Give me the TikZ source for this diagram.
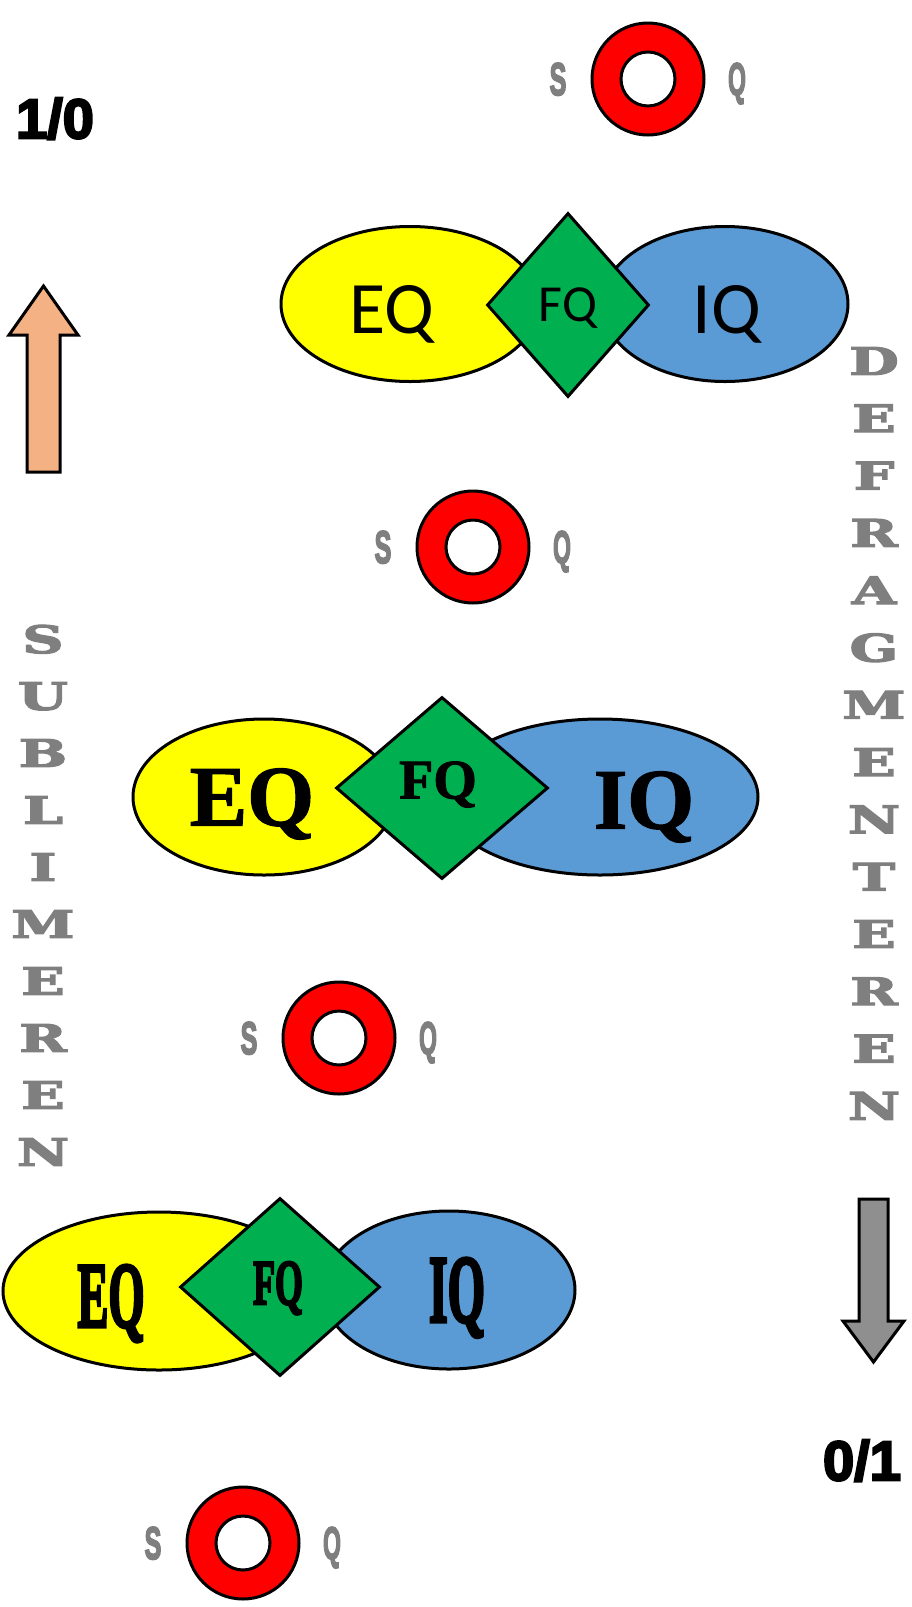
\documentclass[tikz,border=0pt]{standalone}
\usepackage{fontspec}
\usepackage{graphicx}
\usepackage{tikz}
\usetikzlibrary{shapes.geometric, positioning}
\newfontfamily\calfont{Carlito}
\newfontfamily\serffont{Liberation Serif}[UprightFont=* Bold, FakeBold=1.5]
\newfontfamily\heavyserf{Liberation Serif}[UprightFont=* Bold, FakeBold=4]
\newfontfamily\sqfont{Liberation Sans}[UprightFont=* Bold, FakeBold=4]
\newfontfamily\letfont{DejaVu Serif}[UprightFont=* Bold, FakeBold=3]
\definecolor{eqyellow}{RGB}{255,255,0}
\definecolor{iqblue}{RGB}{91,155,213}
\definecolor{fqgreen}{RGB}{0,176,80}
\definecolor{ringred}{RGB}{255,0,0}
\definecolor{uppeach}{RGB}{244,177,131}
\definecolor{downgray}{RGB}{143,143,143}
\definecolor{labelgray}{RGB}{127,127,127}
\newcommand{\narrow}[2][0.6]{\scalebox{#1}[1]{#2}}

\begin{document}
\begin{tikzpicture}[
    x=1pt, y=-1pt,
    shapeline/.style={draw, line width=3pt, inner sep=0pt},
    eqshape/.style={shapeline, ellipse, fill=eqyellow},
    iqshape/.style={shapeline, ellipse, fill=iqblue},
    fqshape/.style={shapeline, diamond, fill=fqgreen, aspect=1},
    outerring/.style={shapeline, circle, fill=ringred, minimum size=112pt},
    innerring/.style={shapeline, circle, fill=white, minimum size=54pt},
    sq/.style={text=labelgray, text depth=0pt, font=\sqfont\fontsize{46}{50}\selectfont},
    vlet/.style={text=labelgray, text depth=0pt, font=\letfont\fontsize{38}{40}\selectfont},
    ratio/.style={text depth=0pt, font=\sqfont\fontsize{56}{60}\selectfont},
    sanstxt/.style={text depth=0pt, font=\calfont\fontsize{#1}{#1}\selectfont},
    seriftxt/.style={text depth=0pt, font=\serffont\fontsize{#1}{#1}\selectfont},
    heavytxt/.style={text depth=0pt, font=\heavyserf\fontsize{#1}{#1}\selectfont}
]
    \useasboundingbox (0,0) rectangle (911,1607);

    % Rings with S and Q
    \foreach \n/\x/\y in {A/648/79, B/473/547, C/339/1038, D/243/1543} {
        \node[outerring] (ring\n) at (\x,\y) {};
        \node[innerring] (hole\n) at (ring\n.center) {};
        \node[sq] (s\n) at ([xshift=-90pt]ring\n.center) {\narrow[0.55]{S}};
        \node[sq] (q\n) at ([xshift=89pt]ring\n.center) {\narrow[0.5]{Q}};
    }

    % Top group (sans)
    \node[eqshape, minimum width=258pt, minimum height=155pt] (eqA) at (410,304) {};
    \node[iqshape, minimum width=246pt, minimum height=155pt] (iqA) at (725,304) {};
    \node[fqshape, minimum width=162pt, minimum height=184pt, sanstxt=52] (fqA) at (568,305) {FQ};
    \node[sanstxt=74] (eqtA) at (392,309) {EQ};
    \node[sanstxt=74] (iqtA) at (727,309) {IQ};

    % Middle group (serif)
    \node[eqshape, minimum width=262pt, minimum height=156pt] (eqB) at (264,797) {};
    \node[iqshape, minimum width=316pt, minimum height=156pt] (iqB) at (600,797) {};
    \node[fqshape, minimum width=212pt, minimum height=182pt] (fqB) at (442,788) {};
    \node[seriftxt=56] (fqtB) at (438,780) {FQ};
    \node[seriftxt=86] (eqtB) at (252,797) {EQ};
    \node[seriftxt=86] (iqtB) at (644,800) {IQ};

    % Bottom group (condensed)
    \node[eqshape, minimum width=312pt, minimum height=158pt] (eqC) at (159,1291) {};
    \node[iqshape, minimum width=252pt, minimum height=158pt] (iqC) at (449,1290) {};
    \node[fqshape, minimum width=200pt, minimum height=178pt] (fqC) at (280,1287) {};
    \node[heavytxt=64] (fqtC) at (278,1283) {\narrow[0.56]{FQ}};
    \node[heavytxt=93] (eqtC) at (111,1296) {\narrow[0.5]{EQ}};
    \node[heavytxt=96] (iqtC) at (457,1290) {\narrow[0.5]{IQ}};

    % Side arrows
    \draw[line width=3pt, fill=uppeach, line join=miter]
        (27,472) -- (27,335) -- (9,335) -- (43.5,286) -- (78,335) -- (60,335) -- (60,472) -- cycle;
    \draw[line width=3pt, fill=downgray, line join=miter]
        (859,1199) -- (859,1321) -- (843,1321) -- (873.5,1362) -- (904,1321) -- (888,1321) -- (888,1199) -- cycle;

    % Ratios
    \node[ratio] (top) at (55,118) {1/0};
    \node[ratio] (bottom) at (862,1460) {0/1};

    % Vertical words
    \foreach \l [count=\i from 0] in {D,E,F,R,A,G,M,E,N,T,E,R,E,N}
        \node[vlet] (defrag\i) at (874,{361+57.3*\i}) {\narrow[1.5]{\l}};
    \foreach \l [count=\i from 0] in {S,U,B,L,I,M,E,R,E,N}
        \node[vlet] (sublim\i) at (43,{639+57*\i}) {\narrow[1.5]{\l}};
\end{tikzpicture}
\end{document}
